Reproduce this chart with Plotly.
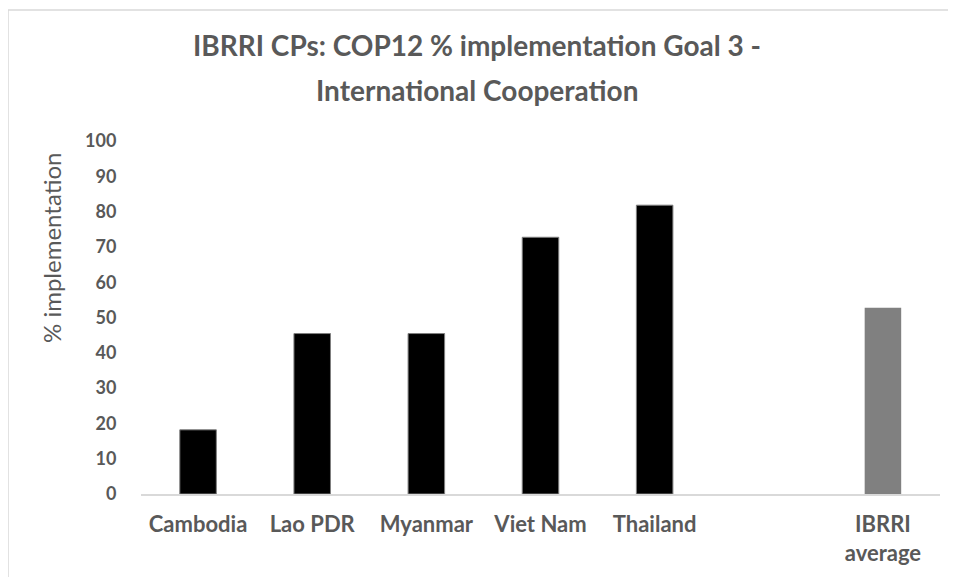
import plotly.graph_objects as go

# data
countries = ["Cambodia", "Lao PDR", "Myanmar", "Viet Nam", "Thailand"]
country_values = [18.18, 45.45, 45.45, 72.73, 81.82]
avg_label = ["IBRRI<br>average"]
avg_value = [52.73]
gap_slot = [" "]  # empty slot on the axis between Thailand and the average
y_ticks = [0, 10, 20, 30, 40, 50, 60, 70, 80, 90, 100]

title_lines = ["IBRRI CPs: COP12 % implementation Goal 3 -", "International Cooperation"]
text_grey = "#595959"
font_family = "Lato, 'Open Sans', sans-serif"

# the page body adds 8px around the figure, so the figure is laid out in its own px
W, H = 956, 577
L, R, T, B = 133, 24, 133, 91
pw, ph = W - L - R, H - T - B


def px_x(x):
    return (x - L) / pw


def px_y(y):
    return (H - B - y) / ph


fig = go.Figure()
fig.add_trace(go.Bar(
    x=countries, y=country_values, width=0.32,
    marker=dict(color="#000000", line=dict(color="#7f7f7f", width=1)),
    showlegend=False,
))
fig.add_trace(go.Bar(
    x=avg_label, y=avg_value, width=0.32,
    marker=dict(color="#808080", line=dict(width=0)),
    showlegend=False,
))

annotations = []
for line, y_center in zip(title_lines, [37, 82]):
    annotations.append(dict(
        text="<b>" + line + "</b>",
        xref="paper", yref="paper",
        x=px_x(469), y=px_y(y_center),
        xanchor="center", yanchor="middle", showarrow=False,
        font=dict(size=28, color=text_grey, family=font_family),
    ))
annotations.append(dict(
    text="% implementation",
    xref="paper", yref="paper",
    x=px_x(43), y=px_y(240),
    xanchor="center", yanchor="middle",
    textangle=-90, showarrow=False,
    font=dict(size=24, color=text_grey, family=font_family),
))

fig.update_layout(
    width=W, height=H,
    margin=dict(l=L, r=R, t=T, b=B),
    paper_bgcolor="white", plot_bgcolor="white",
    barmode="overlay",
    font=dict(family=font_family, color=text_grey),
    xaxis=dict(
        type="category",
        categoryorder="array",
        categoryarray=countries + gap_slot + avg_label,
        range=[-0.5, 6.5],
        showgrid=False, zeroline=False,
        showline=True, linecolor="#d9d9d9", linewidth=2,
        ticks="outside", ticklen=10, tickcolor="rgba(0,0,0,0)",
        tickfont=dict(size=22, color=text_grey, family=font_family, weight="bold"),
    ),
    yaxis=dict(
        range=[0, 100],
        tickvals=y_ticks,
        showgrid=False, zeroline=False, showline=False,
        ticks="outside", ticklen=20, tickcolor="rgba(0,0,0,0)",
        tickfont=dict(size=18, color=text_grey, family=font_family, weight="bold"),
    ),
    annotations=annotations,
    shapes=[dict(
        type="rect", xref="paper", yref="paper",
        x0=px_x(0), x1=px_x(W + 20),
        y0=px_y(H + 20), y1=px_y(2),
        line=dict(color="#d9d9d9", width=1.5),
        fillcolor="rgba(0,0,0,0)", layer="below",
    )],
)

fig.write_html("out.html")
